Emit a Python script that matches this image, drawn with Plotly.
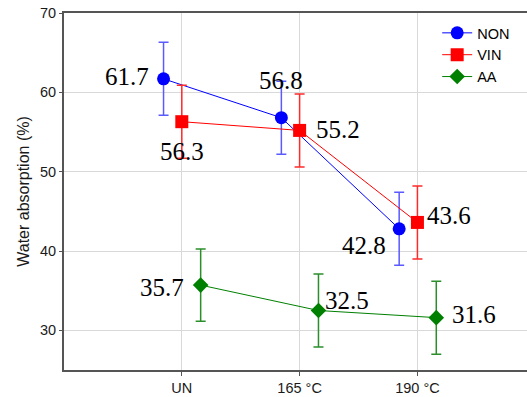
import plotly.graph_objects as go

categories = ["UN", "165 °C", "190 °C"]
series_names = ["NON", "VIN", "AA"]
non_values = [61.7, 56.8, 42.8]
vin_values = [56.3, 55.2, 43.6]
aa_values = [35.7, 32.5, 31.6]
non_err = [4.6, 4.6, 4.6]
vin_err = [4.6, 4.6, 4.6]
aa_err = [4.55, 4.6, 4.6]

base_x = [1, 2, 3]
offsets = {"NON": -0.155, "VIN": 0.0, "AA": 0.16}
styles = {
    "NON": dict(color="#0000ff", err="#5a5aff", symbol="circle", size=13),
    "VIN": dict(color="#ff0000", err="#ff2a2a", symbol="square", size=13),
    "AA": dict(color="#008000", err="#2a8f2a", symbol="diamond", size=12),
}
values = {"NON": non_values, "VIN": vin_values, "AA": aa_values}
errors = {"NON": non_err, "VIN": vin_err, "AA": aa_err}

fig = go.Figure()
for name in series_names:
    s = styles[name]
    xs = [b + offsets[name] for b in base_x]
    fig.add_trace(go.Scatter(
        x=xs, y=values[name], name=name, mode="lines+markers",
        line=dict(color=s["color"], width=1),
        marker=dict(symbol=s["symbol"], size=s["size"], color=s["color"]),
        error_y=dict(type="data", array=errors[name], visible=True,
                     color=s["err"], thickness=1.5, width=5),
    ))

# label placement (pixel shifts, anchors)
label_pos = {
    "NON": [(-13, 2, "right", "middle"), (0, 37, "center", "middle"), (-11, -17, "right", "middle")],
    "VIN": [(0, -30, "center", "middle"), (14, 1, "left", "middle"), (8, 7, "left", "middle")],
    "AA": [(-15, -2, "right", "middle"), (5, 10, "left", "middle"), (14, 3, "left", "middle")],
}
for name in series_names:
    for i, v in enumerate(values[name]):
        dx, dy, xa, ya = label_pos[name][i]
        fig.add_annotation(
            x=base_x[i] + offsets[name], y=v, text=f"{v:.1f}", showarrow=False,
            xshift=dx, yshift=dy, xanchor=xa, yanchor=ya,
            font=dict(family="Liberation Serif", size=25, color="#000000"),
        )

fig.update_layout(
    width=527, height=397,
    margin=dict(l=64, r=0, t=13, b=27),
    plot_bgcolor="white", paper_bgcolor="white",
    font=dict(family="Liberation Sans", size=14.5, color="#1a1a1a"),
    showlegend=True,
    legend=dict(x=0.806, y=0.989, xanchor="left", yanchor="top",
                bgcolor="rgba(0,0,0,0)", font=dict(size=14.5, color="#000000"),
                tracegroupgap=0, itemwidth=30),
)
fig.update_xaxes(
    range=[0, 3.93], tickvals=base_x, ticktext=categories,
    showgrid=True, gridcolor="#d9d9d9", gridwidth=1,
    showline=True, linecolor="#555555", linewidth=2, mirror=True,
    ticks="outside", ticklen=4, tickcolor="#555555",
    tickfont=dict(size=14.5), zeroline=False,
)
fig.update_yaxes(
    range=[25, 70], tickvals=[30, 40, 50, 60, 70],
    showgrid=True, gridcolor="#d9d9d9", gridwidth=1,
    showline=True, linecolor="#555555", linewidth=2,
    ticks="outside", ticklen=3, tickcolor="#555555",
    tickfont=dict(size=14.5), zeroline=False,
    title=dict(text="Water absorption (%)", font=dict(size=16, color="#1a1a1a"), standoff=6),
)

fig.write_html("out.html")
